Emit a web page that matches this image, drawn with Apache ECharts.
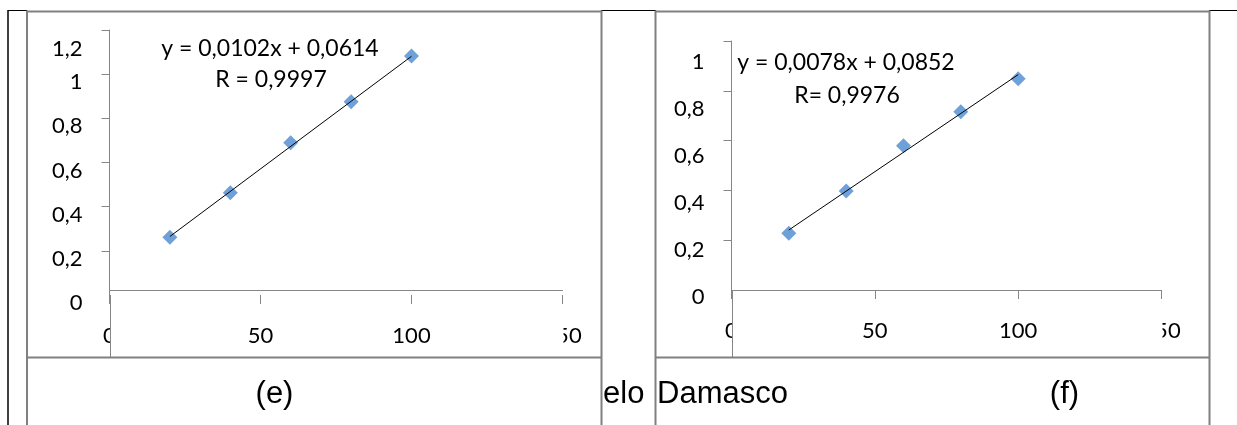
<!DOCTYPE html>
<html><head><meta charset="utf-8">
<script src="https://cdn.jsdelivr.net/npm/echarts@6/dist/echarts.min.js"></script>
<style>html,body{margin:0;padding:0;background:#fff}#c{width:1237px;height:425px}</style>
</head><body><div id="c"></div>
<script>
// ---- data ----
const xTickLabels = ['0', '50', '100', '150'];
const yTickLabelsE = ['0', '0,2', '0,4', '0,6', '0,8', '1', '1,2'];
const yTickLabelsF = ['0', '0,2', '0,4', '0,6', '0,8', '1'];
const yTickMarksE = [0.2, 0.4, 0.6, 0.8, 1, 1.2];
const yTickMarksF = [0.2, 0.4, 0.6, 0.8, 1];
const concE = [20, 40, 60, 80, 100];
const absE = [0.261, 0.463, 0.690, 0.875, 1.082];
const concF = [20, 40, 60, 80, 100];
const absF = [0.228, 0.398, 0.579, 0.716, 0.848];
const trendXE = [20, 100];
const trendYE = [0.265, 1.081];
const trendXF = [20, 100];
const trendYF = [0.241, 0.865];
const eqE = ['y = 0,0102x + 0,0614', 'R = 0,9997'];
const eqF = ['y = 0,0078x + 0,0852', 'R= 0,9976'];
const captions = ['(e)', 'elo', 'Damasco', '(f)'];

// ---- styles ----
const AXIS = '#868686';
const BORDER = '#808080';
const BLUE = '#4A89CF';
const LBL = {fontFamily: 'Lato', fontSize: 22, color: '#000'};
const CAP_FONT = '31px "Liberation Sans"';
const EQ_FONT = '23px Lato';

function rich(pads) {
  const r = {};
  pads.forEach((p, i) => { r['p' + i] = Object.assign({padding: [p, 0, 0, 0]}, LBL); });
  return r;
}
const richE = rich([16, 16, 16, 16, 16, 16, 38]);
const richF = rich([13, 19, 25, 30, 36, 41]);

function xAxisMain(grid, showLine) {
  return {
    gridIndex: grid, type: 'value', min: 0, max: 150, interval: 50,
    axisLine: {show: showLine, onZero: true, lineStyle: {color: AXIS, width: 1}},
    axisTick: {show: true, length: 9, lineStyle: {color: AXIS, width: 1}},
    axisLabel: Object.assign({margin: 30, showMinLabel: true, showMaxLabel: true,
      formatter: (v, i) => xTickLabels[i]}, LBL),
    splitLine: {show: false}
  };
}
function yAxisMain(grid, max, labels, marks, r) {
  return {
    gridIndex: grid, type: 'value', min: 0, max: max, interval: 0.2,
    axisLine: {show: true, onZero: false, lineStyle: {color: AXIS, width: 1}},
    axisTick: {show: true, length: 8, customValues: marks, lineStyle: {color: AXIS, width: 1}},
    axisLabel: Object.assign({margin: 27, showMinLabel: true, showMaxLabel: true,
      formatter: (v, i) => '{p' + i + '|' + labels[i] + '}', rich: r}, LBL),
    splitLine: {show: false}
  };
}

const chart = echarts.init(document.getElementById('c'), null, {renderer: 'canvas'});
const option = {
  animation: false,
  backgroundColor: '#fff',
  grid: [
    {left: 109.5, top: 30, width: 453, height: 265},
    {left: 731.5, top: 41, width: 430, height: 249}
  ],
  xAxis: [
    xAxisMain(0, false),
    {gridIndex: 0, type: 'value', min: 0, max: 150, interval: 50, position: 'bottom', offset: -5,
     axisLine: {show: true, onZero: false, lineStyle: {color: AXIS, width: 1}},
     axisTick: {show: false}, axisLabel: {show: false}, splitLine: {show: false}},
    xAxisMain(1, true)
  ],
  yAxis: [
    yAxisMain(0, 1.2, yTickLabelsE, yTickMarksE, richE),
    yAxisMain(1, 1, yTickLabelsF, yTickMarksF, richF)
  ],
  series: [
    {type: 'scatter', xAxisIndex: 0, yAxisIndex: 0, symbol: 'diamond', symbolSize: 15,
     itemStyle: {color: BLUE}, z: 2, data: concE.map((x, i) => [x, absE[i]])},
    {type: 'line', xAxisIndex: 0, yAxisIndex: 0, symbol: 'none', silent: true, z: 3,
     lineStyle: {color: '#000', width: 1}, data: trendXE.map((x, i) => [x, trendYE[i]])},
    {type: 'scatter', xAxisIndex: 2, yAxisIndex: 1, symbol: 'diamond', symbolSize: 15,
     itemStyle: {color: BLUE}, z: 2, data: concF.map((x, i) => [x, absF[i]])},
    {type: 'line', xAxisIndex: 2, yAxisIndex: 1, symbol: 'none', silent: true, z: 3,
     lineStyle: {color: '#000', width: 1}, data: trendXF.map((x, i) => [x, trendYF[i]])}
  ]
};
chart.setOption(option);

// ---- decoration: table borders, captions, equations, label clipping ----
const o0 = chart.convertToPixel({gridIndex: 0}, [0, 0]);
const o0e = chart.convertToPixel({gridIndex: 0}, [150, 0]);
const o1 = chart.convertToPixel({gridIndex: 1}, [0, 0]);
const o1e = chart.convertToPixel({gridIndex: 1}, [150, 0]);
const CELL_BOTTOM = 357.5;

function line(x1, y1, x2, y2, color, w) {
  return {type: 'line', z: 100, silent: true, shape: {x1, y1, x2, y2}, style: {stroke: color, lineWidth: w}};
}
function text(t, x, y, font, align) {
  return {type: 'text', z: 101, silent: true,
    style: {text: t, x, y, font, fill: '#000', textAlign: align, align: align,
            textVerticalAlign: 'middle', verticalAlign: 'middle'}};
}
function white(x, y, w, h) {
  return {type: 'rect', z: 99, silent: true, shape: {x, y, width: w, height: h}, style: {fill: '#fff'}};
}
const gx0 = Math.round(o0[0]) + 0.5, gx1 = Math.round(o1[0]) + 0.5;
const graphic = [
  // clip end labels of x axes
  white(gx0 + 0.5, 315, 12, 36),
  white(o0e[0] - 22, 315, 23, 36),
  white(gx1 + 0.5, 311, 12, 36),
  white(o1e[0] - 22, 311, 23, 36),
  // y-axis extensions down to the cell border
  line(gx0, o0[1], gx0, CELL_BOTTOM, AXIS, 1),
  line(gx1, o1[1], gx1, CELL_BOTTOM, AXIS, 1),
  // black table borders
  line(8, 10, 8, 425, '#000', 1.5),
  line(8, 10.5, 27, 10.5, '#000', 1),
  line(601, 10.5, 656, 10.5, '#000', 1),
  line(1209, 10.5, 1237, 10.5, '#000', 1),
  // grey frames / cells
  line(27, 10.5, 27, 425, BORDER, 2),
  line(601.5, 10.5, 601.5, 425, BORDER, 2),
  line(655.5, 10.5, 655.5, 425, BORDER, 2),
  line(1209.5, 10.5, 1209.5, 425, BORDER, 2),
  line(27, 11.5, 601.5, 11.5, BORDER, 2),
  line(655.5, 11.5, 1209.5, 11.5, BORDER, 2),
  line(27, CELL_BOTTOM, 601.5, CELL_BOTTOM, BORDER, 2),
  line(655.5, CELL_BOTTOM, 1209.5, CELL_BOTTOM, BORDER, 2),
  // equations
  text(eqE[0], 270, 48.5, EQ_FONT, 'center'),
  text(eqE[1], 271, 79.5, EQ_FONT, 'center'),
  text(eqF[0], 846, 63, EQ_FONT, 'center'),
  text(eqF[1], 847, 95.5, EQ_FONT, 'center'),
  // captions
  text(captions[0], 274.5, 394, CAP_FONT, 'center'),
  text(captions[1], 603, 394, CAP_FONT, 'left'),
  text(captions[2], 657, 394, CAP_FONT, 'left'),
  text(captions[3], 1064.5, 394, CAP_FONT, 'center')
];
chart.setOption({graphic: graphic});
</script>
</body></html>
